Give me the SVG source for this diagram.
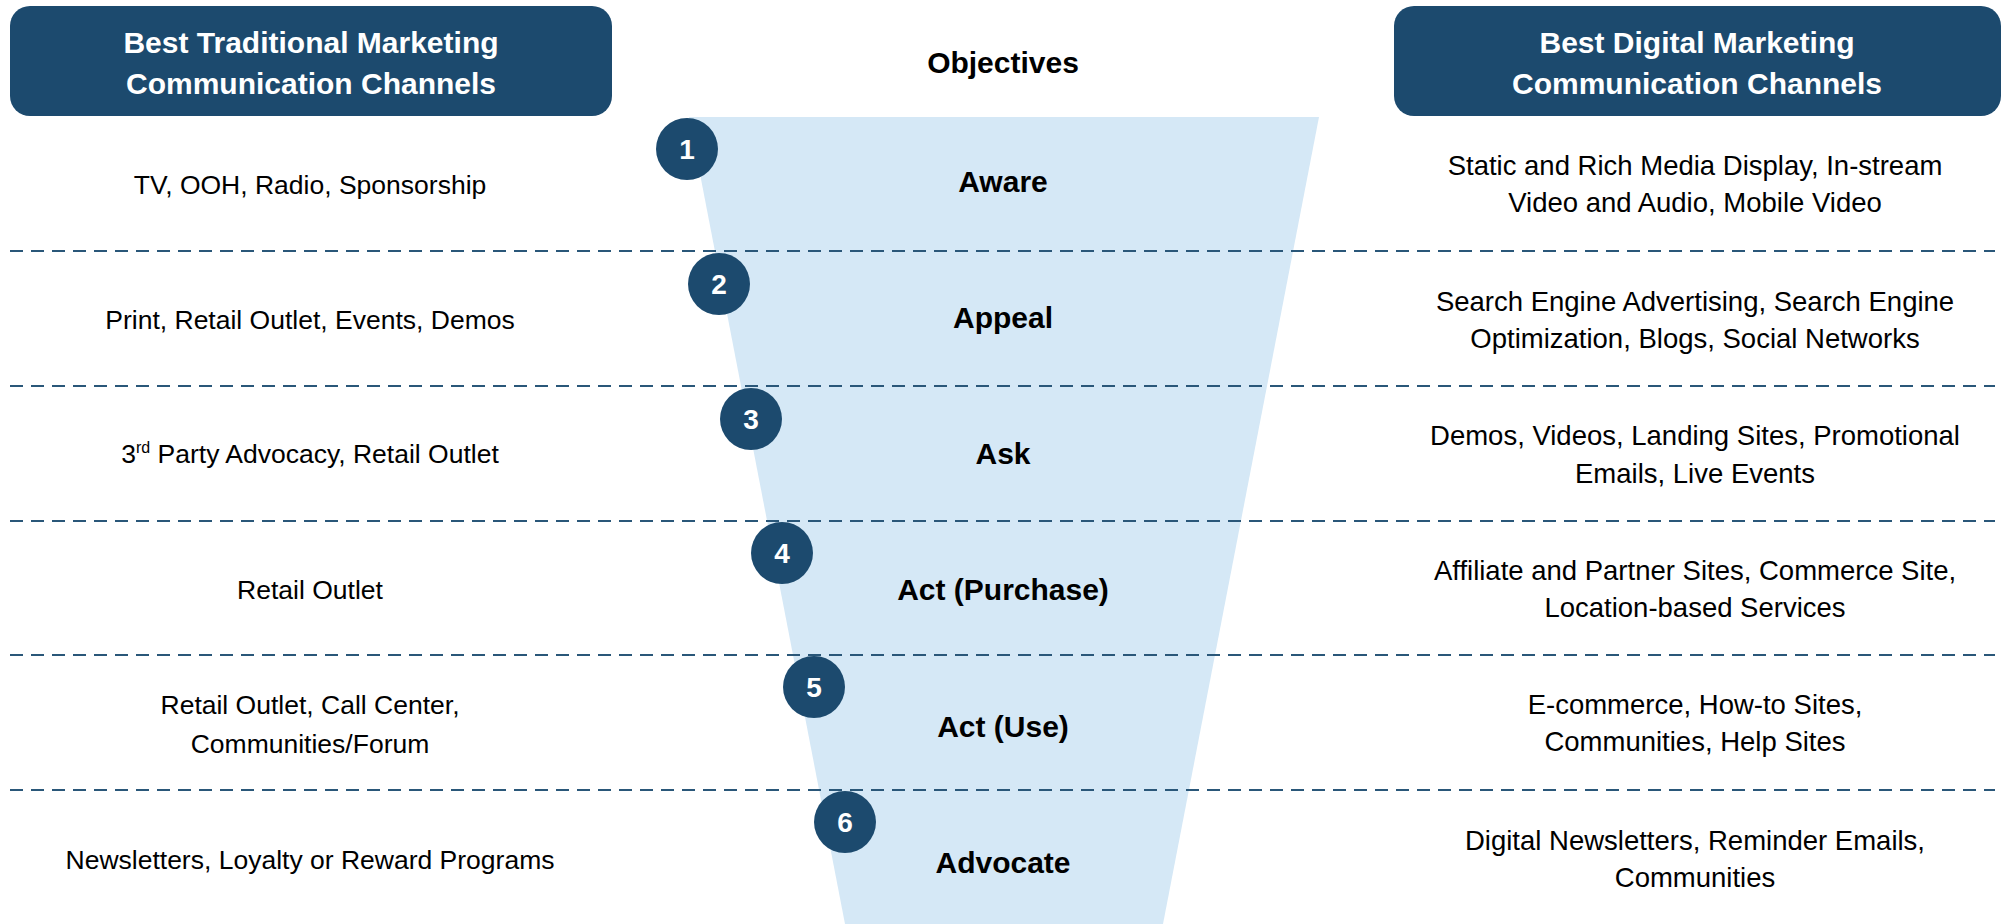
<svg xmlns="http://www.w3.org/2000/svg" width="2007" height="924" viewBox="0 0 2007 924">
<style>
.hdr{fill:#1C4A6E}
.hdrt{font-family:"Liberation Sans",Arial,sans-serif;font-weight:bold;font-size:30px;fill:#FFFFFF;text-anchor:middle}
.obj{font-family:"Liberation Sans",Arial,sans-serif;font-weight:bold;font-size:30px;fill:#000000;text-anchor:middle}
.body{font-family:"Liberation Sans",Arial,sans-serif;font-size:26.5px;fill:#000000;text-anchor:middle}
.bodyr{font-family:"Liberation Sans",Arial,sans-serif;font-size:27.5px;fill:#000000;text-anchor:middle}
.num{font-family:"Liberation Sans",Arial,sans-serif;font-weight:bold;font-size:28px;fill:#FFFFFF;text-anchor:middle}
.circ{fill:#1C4A6E}
.sep{stroke:#2A5779;stroke-width:2;stroke-dasharray:13 8;fill:none}
</style>
<rect width="2007" height="924" fill="#FFFFFF"/>
<g id="funnel">
<polygon points="689,117 1319,117 1163,924 845,924" fill="#D5E8F6"/>
</g>
<g id="connectors">
<line class="sep" x1="10" y1="251" x2="1995" y2="251"/>
<line class="sep" x1="10" y1="386" x2="1995" y2="386"/>
<line class="sep" x1="10" y1="521" x2="1995" y2="521"/>
<line class="sep" x1="10" y1="655" x2="1995" y2="655"/>
<line class="sep" x1="10" y1="790" x2="1995" y2="790"/>
</g>
<g id="header-traditional">
<rect class="hdr" x="10" y="6" width="602" height="110" rx="20" ry="20"/>
<text class="hdrt" x="311" y="53">Best Traditional Marketing</text>
<text class="hdrt" x="311" y="94">Communication Channels</text>
</g>
<g id="header-digital">
<rect class="hdr" x="1394" y="6" width="607" height="110" rx="20" ry="20"/>
<text class="hdrt" x="1697" y="53">Best Digital Marketing</text>
<text class="hdrt" x="1697" y="94">Communication Channels</text>
</g>
<g id="header-objectives">
<text class="obj" x="1003" y="73">Objectives</text>
</g>
<g id="stage-1">
<text class="obj" x="1003" y="192">Aware</text>
<circle class="circ" cx="687" cy="149" r="31"/>
<text class="num" x="687" y="159">1</text>
<text class="body" x="310" y="194">TV, OOH, Radio, Sponsorship</text>
<text class="bodyr" x="1695" y="175">Static and Rich Media Display, In-stream</text>
<text class="bodyr" x="1695" y="212">Video and Audio, Mobile Video</text>
</g>
<g id="stage-2">
<text class="obj" x="1003" y="328">Appeal</text>
<circle class="circ" cx="719" cy="284" r="31"/>
<text class="num" x="719" y="294">2</text>
<text class="body" x="310" y="329">Print, Retail Outlet, Events, Demos</text>
<text class="bodyr" x="1695" y="311">Search Engine Advertising, Search Engine</text>
<text class="bodyr" x="1695" y="348">Optimization, Blogs, Social Networks</text>
</g>
<g id="stage-3">
<text class="obj" x="1003" y="464">Ask</text>
<circle class="circ" cx="751" cy="419" r="31"/>
<text class="num" x="751" y="429">3</text>
<text class="body" x="310" y="463">3<tspan font-size="16" dy="-10">rd</tspan><tspan dy="10"> Party Advocacy, Retail Outlet</tspan></text>
<text class="bodyr" x="1695" y="445">Demos, Videos, Landing Sites, Promotional</text>
<text class="bodyr" x="1695" y="483">Emails, Live Events</text>
</g>
<g id="stage-4">
<text class="obj" x="1003" y="600">Act (Purchase)</text>
<circle class="circ" cx="782" cy="553" r="31"/>
<text class="num" x="782" y="563">4</text>
<text class="body" x="310" y="599">Retail Outlet</text>
<text class="bodyr" x="1695" y="580">Affiliate and Partner Sites, Commerce Site,</text>
<text class="bodyr" x="1695" y="617">Location-based Services</text>
</g>
<g id="stage-5">
<text class="obj" x="1003" y="737">Act (Use)</text>
<circle class="circ" cx="814" cy="687" r="31"/>
<text class="num" x="814" y="697">5</text>
<text class="body" x="310" y="714">Retail Outlet, Call Center,</text>
<text class="body" x="310" y="753">Communities/Forum</text>
<text class="bodyr" x="1695" y="714">E-commerce, How-to Sites,</text>
<text class="bodyr" x="1695" y="751">Communities, Help Sites</text>
</g>
<g id="stage-6">
<text class="obj" x="1003" y="873">Advocate</text>
<circle class="circ" cx="845" cy="822" r="31"/>
<text class="num" x="845" y="832">6</text>
<text class="body" x="310" y="869">Newsletters, Loyalty or Reward Programs</text>
<text class="bodyr" x="1695" y="850">Digital Newsletters, Reminder Emails,</text>
<text class="bodyr" x="1695" y="887">Communities</text>
</g>
</svg>
